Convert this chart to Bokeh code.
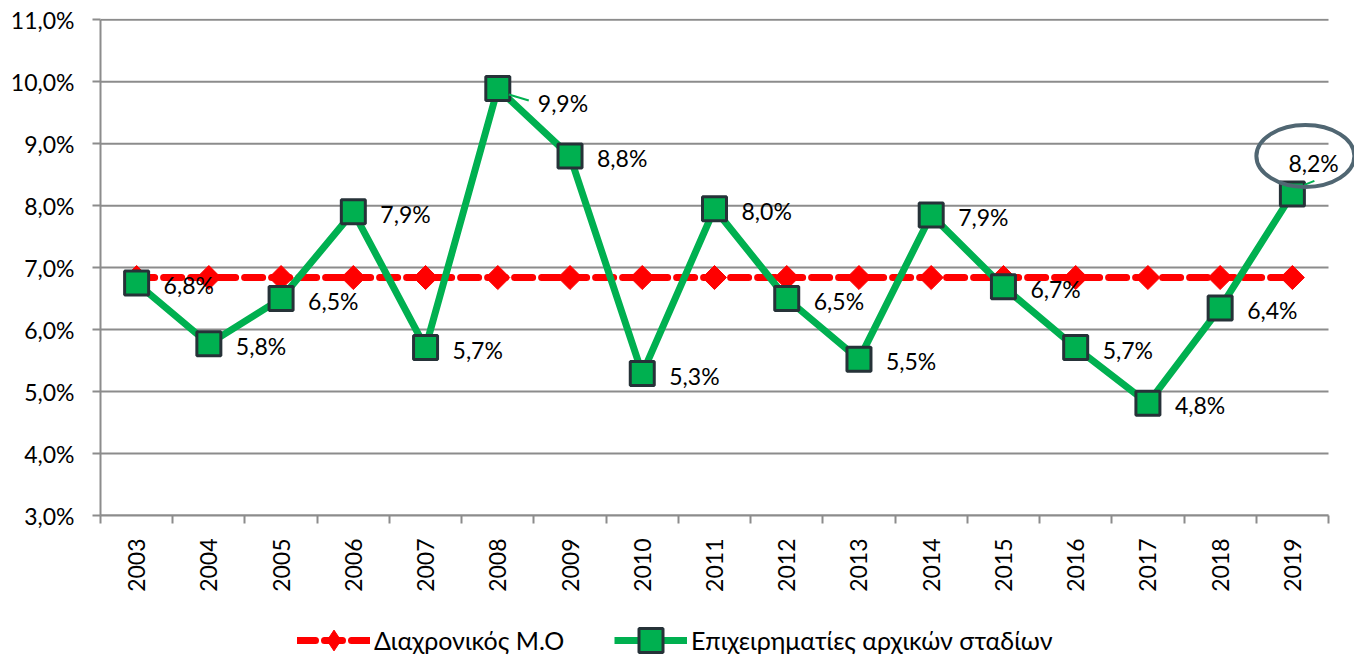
import numpy as np
from bokeh.plotting import figure
from bokeh.layouts import column
from bokeh.models import Range1d, FixedTicker, Legend, LegendItem, ColumnDataSource
from bokeh.core.properties import value
from bokeh.embed import file_html
from bokeh.resources import INLINE

# ---------------- data ----------------
years = ["2003", "2004", "2005", "2006", "2007", "2008", "2009", "2010", "2011",
         "2012", "2013", "2014", "2015", "2016", "2017", "2018", "2019"]
rates = [6.75, 5.77, 6.50, 7.90, 5.71, 9.89, 8.80, 5.29, 7.95,
         6.50, 5.52, 7.85, 6.69, 5.71, 4.81, 6.35, 8.19]
rate_labels = ["6,8%", "5,8%", "6,5%", "7,9%", "5,7%", "9,9%", "8,8%", "5,3%", "8,0%",
               "6,5%", "5,5%", "7,9%", "6,7%", "5,7%", "4,8%", "6,4%", "8,2%"]
mean_rate = 6.84
y_ticks = [3, 4, 5, 6, 7, 8, 9, 10, 11]
y_tick_labels = ["3,0%", "4,0%", "5,0%", "6,0%", "7,0%", "8,0%", "9,0%", "10,0%", "11,0%"]
series_names = ["Διαχρονικός Μ.Ο", "Επιχειρηματίες αρχικών σταδίων"]

# ---------------- styles ----------------
FONT = "Lato"
FS = "23px"
GREEN = "#00b050"
RED = "#ff0000"
GRID = "#8c8c8c"
EDGE = "#263238"

n = len(years)
xs = list(range(n))
W = 1354
H_MAIN, H_LEG = 615, 42
FRAME_L, FRAME_TOP = 100, 18
FRAME_W, FRAME_H = 1228, 497
px_per_cat = FRAME_W / n
x_end = n - 0.5 + (W - FRAME_L - FRAME_W) / px_per_cat

p = figure(width=W, height=H_MAIN, output_backend="svg", toolbar_location=None,
           x_range=Range1d(-0.5, x_end), y_range=Range1d(y_ticks[0], y_ticks[-1] + 0.02),
           min_border_left=FRAME_L, min_border_right=0, min_border_top=FRAME_TOP,
           min_border_bottom=H_MAIN - FRAME_TOP - FRAME_H)
p.outline_line_color = None
p.background_fill_color = "white"
p.border_fill_color = "white"
p.xgrid.grid_line_color = None
p.ygrid.grid_line_color = None

# horizontal gridlines limited to the category span
p.segment(x0=[-0.5] * len(y_ticks), x1=[n - 0.5] * len(y_ticks), y0=y_ticks, y1=y_ticks,
          line_color=GRID, line_width=2)

# x axis
p.xaxis.ticker = FixedTicker(ticks=xs, minor_ticks=[i - 0.5 for i in range(n + 1)])
p.xaxis.major_label_overrides = {i: years[i] for i in xs}
p.xaxis.major_label_orientation = np.pi / 2
p.xaxis.major_tick_out = 0
p.xaxis.major_tick_in = 0
p.xaxis.minor_tick_out = 8
p.xaxis.minor_tick_in = 0
p.xaxis.minor_tick_line_color = GRID
p.xaxis.minor_tick_line_width = 2
p.xaxis.axis_line_color = GRID
p.xaxis.axis_line_width = 2
p.xaxis.bounds = (-0.5, n - 0.5)
p.xaxis.major_label_standoff = 15
p.xaxis.major_label_text_font = FONT
p.xaxis.major_label_text_font_size = FS
p.xaxis.major_label_text_color = "black"

# y axis
p.yaxis.ticker = FixedTicker(ticks=y_ticks, minor_ticks=[])
p.yaxis.major_label_overrides = {t: l for t, l in zip(y_ticks, y_tick_labels)}
p.yaxis.major_tick_out = 8
p.yaxis.major_tick_in = 0
p.yaxis.major_tick_line_color = GRID
p.yaxis.major_tick_line_width = 2
p.yaxis.axis_line_color = GRID
p.yaxis.axis_line_width = 2
p.yaxis.bounds = (y_ticks[0], y_ticks[-1])
p.yaxis.major_label_standoff = 18
p.yaxis.major_label_text_font = FONT
p.yaxis.major_label_text_font_size = FS
p.yaxis.major_label_text_color = "black"

# styles of the two series
mean_vals = [mean_rate] * n
line_red = dict(line_color=RED, line_width=7, line_dash="18 9", line_cap="round")
mark_red = dict(marker="square", angle=np.pi / 4, size=17, fill_color=RED, line_color=RED)
line_green = dict(line_color=GREEN, line_width=7)
mark_green = dict(marker="square", size=24, fill_color=GREEN, line_color=EDGE, line_width=3)

# mean series
p.line(xs, mean_vals, **line_red)
p.scatter(xs, mean_vals, **mark_red)

# main series
p.line(xs, rates, **line_green)
p.scatter(xs, rates, **mark_green)

# data labels
dx = [27] * n
dy = [2] * n
dx[5], dy[5] = 40, 14
dx[16], dy[16] = -4, -31
src = ColumnDataSource(dict(x=xs, y=rates, t=rate_labels, dx=dx, dy=dy))
p.text(x="x", y="y", text="t", x_offset="dx", y_offset="dy", source=src,
       text_baseline="middle", text_align="left", text_font_size=FS,
       text_font=value(FONT), text_color="black")

# leader lines (relative to points, pixel offsets converted to data units)
ppy = FRAME_H / (y_ticks[-1] - y_ticks[0])
i8, i19 = 5, 16
p.segment(x0=[xs[i8] + 11 / px_per_cat, xs[i19] + 12 / px_per_cat],
          y0=[rates[i8] - 6 / ppy, rates[i19] + 9 / ppy],
          x1=[xs[i8] + 31 / px_per_cat, xs[i19] + 22 / px_per_cat],
          y1=[rates[i8] - 12 / ppy, rates[i19] + 13 / ppy],
          line_color=GREEN, line_width=2)

# highlight ellipse around the last label
p.ellipse(x=[xs[i19] + 13 / px_per_cat], y=[rates[i19] + 38 / ppy],
          width=98 / px_per_cat, height=62 / ppy,
          fill_color=None, line_color="#506672", line_width=4)

# ---------------- legend strip ----------------
lg = figure(width=W, height=H_LEG, output_backend="svg", toolbar_location=None,
            x_range=Range1d(0, 1), y_range=Range1d(0, 1),
            x_axis_location=None, y_axis_location=None,
            min_border=0, outline_line_color=None)
lg.grid.visible = False
lg.background_fill_color = "white"
lg.border_fill_color = "white"
# proxy source: points outside the visible strip, used only for legend swatches
proxy = ColumnDataSource(dict(x=[5, 6], y=[5, 6]))
lr1 = lg.line("x", "y", source=proxy, **line_red)
lr2 = lg.scatter("x", "y", source=proxy, marker="diamond", fill_color=RED, line_color=RED)
lg1 = lg.line("x", "y", source=proxy, **line_green)
lg2 = lg.scatter("x", "y", source=proxy, **mark_green)

common = dict(orientation="horizontal", glyph_width=73, label_height=20, label_standoff=4,
              padding=0, margin=0, border_line_color=None, background_fill_alpha=0,
              label_text_font=FONT, label_text_font_size="25px", label_text_color="black")
CENTER_FROM_BOTTOM = 17
h_red, h_green = 52, 60
leg_red = Legend(items=[LegendItem(label=series_names[0], renderers=[lr1, lr2])],
                 location=(197, CENTER_FROM_BOTTOM - h_red / 2), glyph_height=h_red, **common)
leg_green = Legend(items=[LegendItem(label=series_names[1], renderers=[lg1, lg2])],
                   location=(514, CENTER_FROM_BOTTOM - h_green / 2), glyph_height=h_green, **common)
lg.add_layout(leg_red)
lg.add_layout(leg_green)

open("out.html", "w").write(file_html(column(p, lg), INLINE))
